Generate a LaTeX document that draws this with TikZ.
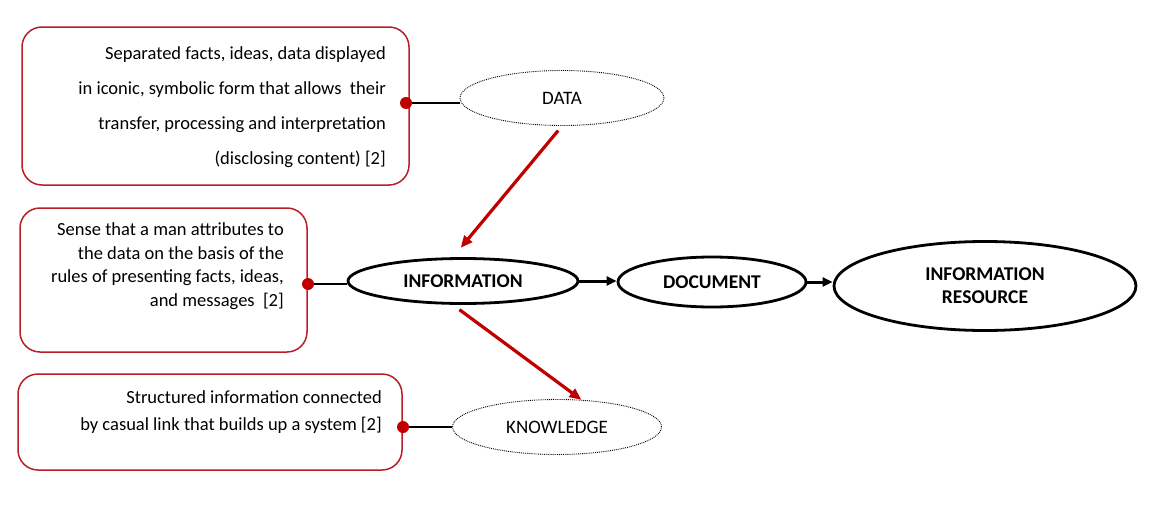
\documentclass[tikz,border=0pt]{standalone}
\usepackage{fontspec}
\setmainfont{Carlito}
\usepackage{tikz}
\usetikzlibrary{positioning,shapes.geometric,arrows.meta}
\definecolor{linkred}{RGB}{192,0,0}
\definecolor{boxred}{RGB}{185,30,40}

\begin{document}
\begin{tikzpicture}[x=1pt, y=-1pt,
    defbox/.style={draw=boxred, line width=1.5pt, rounded corners=20pt, inner sep=0pt},
    deftext/.style={anchor=east, align=right, inner sep=0pt},
    weakterm/.style={ellipse, draw, densely dotted, line width=0.9pt, inner sep=0pt, font=\fontsize{19}{22}\selectfont},
    mainterm/.style={ellipse, draw, line width=2.8pt, inner sep=0pt, align=center, font=\fontsize{19.5}{23}\selectfont\bfseries},
    pin/.style={circle, fill=linkred, minimum size=12pt, inner sep=0pt},
    redarrow/.style={-{Triangle[length=12pt,width=10pt]}, draw=linkred, fill=linkred, line width=3.2pt},
    flow/.style={-{Triangle[length=10pt,width=9pt]}, line width=3pt}
]
    \useasboundingbox (0,0) rectangle (1157,506);

    % main chain
    \node[mainterm, minimum width=230, minimum height=45] (info) at (463,281) {INFORMATION};
    \node[mainterm, minimum width=188, minimum height=50] (doc) at (712,282) {DOCUMENT};
    \node[mainterm, minimum width=302, minimum height=89] (res) at (985,286) {INFORMATION\\RESOURCE};

    \node[weakterm, minimum width=204, minimum height=55] (data) at (562,98) {DATA};
    \node[weakterm, minimum width=209, minimum height=55] (know) at (557,427) {KNOWLEDGE};

    % definitions
    \node[defbox, minimum width=387, minimum height=158] (b1) at (215.5,106) {};
    \node[deftext, font=\fontsize{18.5}{35}\selectfont] (t1) at (386,107)
        {Separated facts, ideas, data displayed\\
         in iconic, symbolic form that allows\ \ their\\
         transfer, processing and interpretation\\
         (disclosing content) [2]};

    \node[defbox, minimum width=287, minimum height=144] (b2) at (163.5,280) {};
    \node[deftext, font=\fontsize{18.5}{23.5}\selectfont] (t2) at (284,266)
        {Sense that a man attributes to\\
         the data on the basis of the\\
         rules of presenting facts, ideas,\\
         and messages\ \ [2]};

    \node[defbox, minimum width=384, minimum height=96] (b3) at (210,422) {};
    \node[deftext, font=\fontsize{18.5}{27}\selectfont] (t3) at (382,412)
        {Structured information connected\\
         by casual link that builds up a system [2]};

    % pins
    \node[pin] (p1) at (406,103) {};
    \node[pin] (p2) at (308,284) {};
    \node[pin] (p3) at (403,427) {};
    \draw[line width=1.2pt] (p1) -- (p1 -| data.west);
    \draw[line width=1.2pt] (p2) -- (p2 -| info.west);
    \draw[line width=1.2pt] (p3) -- (p3 -| know.west);

    % arrows
    \draw[redarrow, shorten <=6pt, shorten >=12pt] (data.south) -- ([xshift=-10pt]info.north);
    \draw[redarrow, shorten <=8pt] ([xshift=-10pt]info.south) -- (know.48);
    \draw[flow] (info.east) -- (info.east -| doc.west);
    \draw[flow] (doc.east) -- (doc.east -| res.west);
\end{tikzpicture}
\end{document}
